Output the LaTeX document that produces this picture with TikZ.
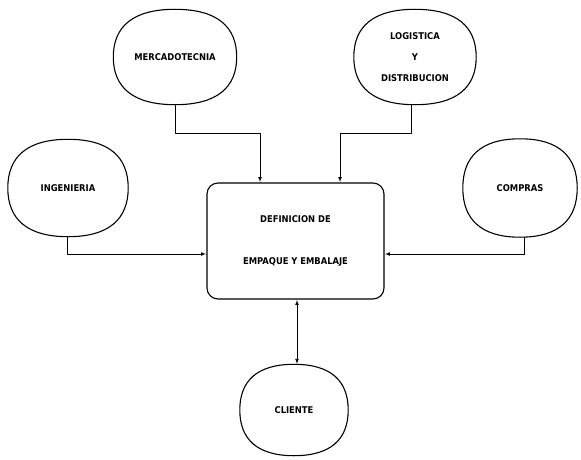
\documentclass[tikz,border=0pt]{standalone}
\usepackage{fontspec}
\usetikzlibrary{calc}
\newfontfamily\scanfont{DejaVu Sans Condensed}
\begin{document}
\begin{tikzpicture}[x=1pt,y=-1pt,>=latex,line join=round,line cap=round,
	every node/.style={font=\scanfont\bfseries\fontsize{9.3}{11}\selectfont},
	blob/.style={align=center,inner sep=0pt},
	caja/.style={draw,line width=1.1pt,rounded corners=11pt,align=center,inner sep=0pt,minimum width=177pt,minimum height=116pt},
	flecha/.style={->,line width=0.7pt,shorten >=0.5pt}]
	\useasboundingbox (0,0) rectangle (581,460);
	\node[blob,minimum width=123pt,minimum height=95pt] (mercado) at (175,57) {MERCADOTECNIA};
	\node[blob,minimum width=122pt,minimum height=95pt] (logistica) at (415,57) {LOGISTICA\\[10pt] Y\\[10pt] DISTRIBUCION};
	\node[blob,minimum width=120pt,minimum height=97pt] (ingenieria) at (68,188) {INGENIERIA};
	\node[blob,minimum width=114pt,minimum height=98pt] (compras) at (520,188) {COMPRAS};
	\node[caja] (definicion) at (295.5,241) {DEFINICION DE\\[31pt] EMPAQUE Y EMBALAJE};
	\node[blob,minimum width=108pt,minimum height=91pt] (cliente) at (294,410) {CLIENTE};
	% contornos redondeados
	\foreach \n in {mercado,logistica,ingenieria,compras,cliente}
		\draw[line width=1.1pt]
			(\n.north) .. controls ($(\n.north)!0.68!(\n.north east)$) and ($(\n.east)!0.64!(\n.north east)$) .. (\n.east)
			.. controls ($(\n.east)!0.64!(\n.south east)$) and ($(\n.south)!0.68!(\n.south east)$) .. (\n.south)
			.. controls ($(\n.south)!0.68!(\n.south west)$) and ($(\n.west)!0.64!(\n.south west)$) .. (\n.west)
			.. controls ($(\n.west)!0.64!(\n.north west)$) and ($(\n.north)!0.68!(\n.north west)$) .. cycle;
	% conexiones
	\draw[flecha] (mercado.south) -- ++(0,28.5) -| ([xshift=-35.5pt]definicion.north);
	\draw[flecha] ([xshift=-4pt]logistica.south) -- ++(0,28.5) -| ([xshift=44.5pt]definicion.north);
	\draw[flecha] ([xshift=-1pt]ingenieria.south) |- ([yshift=-13pt]definicion.west);
	\draw[flecha] ([xshift=4pt]compras.south) |- ([yshift=-13pt]definicion.east);
	\draw[<->,line width=0.7pt,shorten >=0.5pt,shorten <=0.5pt] ([xshift=1.5pt]definicion.south) -- ([xshift=3pt]cliente.north);
\end{tikzpicture}
\end{document}
